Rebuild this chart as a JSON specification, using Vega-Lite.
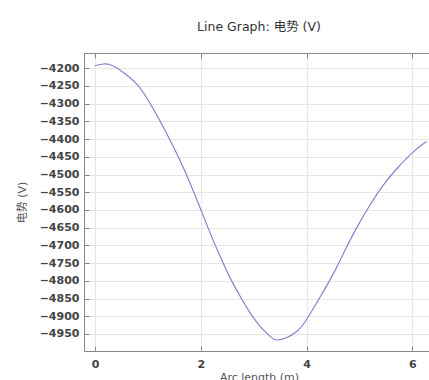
{
  "$schema": "https://vega.github.io/schema/vega-lite/v6.json",
  "autosize": {"type": "none"},
  "padding": {"left": 84, "top": 53, "right": 0, "bottom": 29},
  "width": 350,
  "height": 298,
  "background": "white",
  "title": {
    "text": "Line Graph: 电势 (V)",
    "font": "DejaVu Sans, Noto Sans CJK SC",
    "fontSize": 12.5,
    "fontWeight": "normal",
    "color": "#333333",
    "anchor": "middle",
    "offset": 19
  },
  "data": {
    "values": [
      {"s": 0, "v": -4193},
      {"s": 0.16, "v": -4188},
      {"s": 0.3, "v": -4191},
      {"s": 0.47, "v": -4205},
      {"s": 0.79, "v": -4245},
      {"s": 1.04, "v": -4299},
      {"s": 1.23, "v": -4349},
      {"s": 1.42, "v": -4403},
      {"s": 1.61, "v": -4461},
      {"s": 1.8, "v": -4525},
      {"s": 1.99, "v": -4595},
      {"s": 2.18, "v": -4666},
      {"s": 2.37, "v": -4732},
      {"s": 2.56, "v": -4793},
      {"s": 2.75, "v": -4845},
      {"s": 2.94, "v": -4892},
      {"s": 3.13, "v": -4930},
      {"s": 3.32, "v": -4958},
      {"s": 3.44, "v": -4967},
      {"s": 3.63, "v": -4960},
      {"s": 3.82, "v": -4942},
      {"s": 3.98, "v": -4914},
      {"s": 4.26, "v": -4845},
      {"s": 4.51, "v": -4779},
      {"s": 4.73, "v": -4713},
      {"s": 4.96, "v": -4647},
      {"s": 5.18, "v": -4591},
      {"s": 5.43, "v": -4534},
      {"s": 5.71, "v": -4483},
      {"s": 6.02, "v": -4436},
      {"s": 6.27, "v": -4407}
    ]
  },
  "layer": [
    {
      "mark": {"type": "line", "color": "#7f86cc", "strokeWidth": 1.2, "interpolate": "natural", "clip": true},
      "encoding": {
        "x": {
          "field": "s", "type": "quantitative",
          "scale": {"domain": [-0.208, 6.41], "nice": false, "zero": false},
          "axis": {"title": "Arc length (m)", "values": [0, 2, 4, 6], "format": "d", "labelPadding": 12, "titlePadding": 2}
        },
        "y": {
          "field": "v", "type": "quantitative",
          "scale": {"domain": [-4998, -4157], "nice": false, "zero": false},
          "axis": {"title": "电势 (V)", "values": [-4200, -4250, -4300, -4350, -4400, -4450, -4500, -4550, -4600, -4650, -4700, -4750, -4800, -4850, -4900, -4950], "format": "d", "labelPadding": 10, "titlePadding": 12}
        }
      }
    },
    {
      "mark": {"type": "line", "opacity": 0},
      "encoding": {
        "x": {
          "field": "s", "type": "quantitative",
          "scale": {"domain": [-0.208, 6.41], "nice": false, "zero": false},
          "axis": {"orient": "top", "title": null, "labels": false, "grid": false, "values": [0, 2, 4, 6]}
        },
        "y": {
          "field": "v", "type": "quantitative",
          "scale": {"domain": [-4998, -4157], "nice": false, "zero": false},
          "axis": {"orient": "right", "title": null, "labels": false, "grid": false, "values": [-4200, -4250, -4300, -4350, -4400, -4450, -4500, -4550, -4600, -4650, -4700, -4750, -4800, -4850, -4900, -4950]}
        }
      }
    }
  ],
  "resolve": {"axis": {"x": "independent", "y": "independent"}},
  "config": {
    "view": {"stroke": "#aaaaaa", "strokeWidth": 1},
    "axis": {
      "domainColor": "#888888",
      "tickColor": "#888888",
      "tickSize": -5,
      "gridColor": "#e6e6e6",
      "grid": true,
      "labelFont": "DejaVu Sans",
      "labelFontSize": 11,
      "labelFontWeight": "bold",
      "labelColor": "#444444",
      "titleFont": "DejaVu Sans, Noto Sans CJK SC",
      "titleFontSize": 11,
      "titleFontWeight": "normal",
      "titleColor": "#555555"
    }
  }
}
